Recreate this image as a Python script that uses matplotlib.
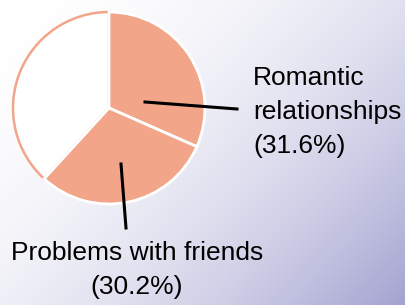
import numpy as np
import matplotlib
matplotlib.use("Agg")
import matplotlib.pyplot as plt

labels = ["Romantic\nrelationships\n(31.6%)", "Problems with friends\n(30.2%)", ""]
shares = [31.6, 30.2, 38.2]
colors = ["#F3A58A", "#F3A58A", "white"]

W, H = 406, 305
fig = plt.figure(figsize=(W / 100, H / 100), dpi=100)
ax = fig.add_axes([0, 0, 1, 1])

# background: white top-left fading to lavender bottom-right
xx, yy = np.meshgrid(np.linspace(0, 1, 200), np.linspace(0, 1, 150))
t = (0.58 * xx + 0.42 * yy) ** 2
top = np.array([1.0, 1.0, 1.0])
end = np.array([0.64, 0.64, 0.82])
bg = top + t[..., None] * (end - top)
ax.imshow(bg, extent=[0, W, 0, H], origin="upper", aspect="auto", zorder=0)

wedges, _ = ax.pie(shares, colors=colors, startangle=90, counterclock=False,
                   center=(109, 197), radius=96, frame=True)
ax.set_xlim(0, W)
ax.set_ylim(0, H)
ax.axis("off")
for w, c in zip(wedges, colors):
    if c == "white":
        w.set_edgecolor("#F3A58A")
        w.set_linewidth(1.8)
        w.set_zorder(1)
    else:
        w.set_edgecolor("white")
        w.set_linewidth(2)
        w.set_zorder(2)

# leader lines
ax.plot([145, 237], [203, 196], color="black", lw=2.2, zorder=3)
ax.plot([121, 126], [141, 77], color="black", lw=2.2, zorder=3)

ax.text(253, 193, labels[0], ha="left", va="center", fontsize=19,
        family="Liberation Sans", linespacing=1.55, zorder=4)
ax.text(137, 35, labels[1], ha="center", va="center", fontsize=19,
        family="Liberation Sans", linespacing=1.55, zorder=4)

fig.savefig("out.png", dpi=100)
